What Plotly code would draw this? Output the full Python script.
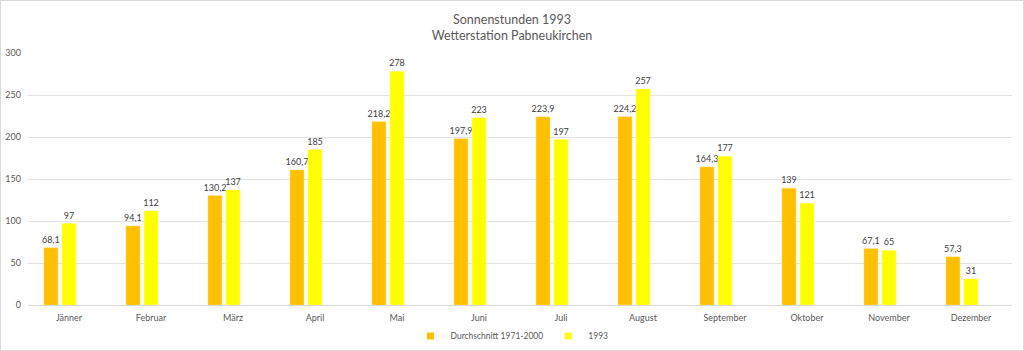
import plotly.graph_objects as go

months = ["Jänner", "Februar", "März", "April", "Mai", "Juni", "Juli",
          "August", "September", "Oktober", "November", "Dezember"]
avg_1971_2000 = [68.1, 94.1, 130.2, 160.7, 218.2, 197.9, 223.9, 224.2, 164.3, 139, 67.1, 57.3]
year_1993 = [97, 112, 137, 185, 278, 223, 197, 257, 177, 121, 65, 31]
y_ticks = [0, 50, 100, 150, 200, 250, 300]
series_names = ["Durchschnitt 1971-2000", "1993"]

def fmt(v):
    return str(v).replace(".", ",")

W, H = 1024, 351
ML, MR, MT, MB = 28, 12, 53, 46
PW, PH = W - ML - MR, H - MT - MB

FONT = "Lato, 'Open Sans', sans-serif"
GRAY = "#595959"
C1, C2 = "#FFC000", "#FFFF00"

fig = go.Figure()
for vals, col, lcol, off in [(avg_1971_2000, C1, "#FFD966", -0.305),
                             (year_1993, C2, "#FFFF66", -0.085)]:
    fig.add_trace(go.Bar(
        x=months, y=vals, showlegend=False,
        marker=dict(color=col, line=dict(color=lcol, width=0.5)),
        width=0.17, offset=off,
        text=[fmt(v) for v in vals], textposition="outside", constraintext="none",
        textfont=dict(size=9, color="#404040", family=FONT), cliponaxis=False,
    ))
# legend entries (small square markers like the original)
for name, col in zip(series_names, [C1, C2]):
    fig.add_trace(go.Scatter(
        x=[None], y=[None], mode="markers", name=name,
        marker=dict(symbol="square", size=7, color=col),
    ))

fig.update_layout(
    width=W, height=H,
    margin=dict(l=ML, r=MR, t=MT, b=MB, autoexpand=False),
    paper_bgcolor="white", plot_bgcolor="white",
    font=dict(family=FONT, color=GRAY, size=9),
    title=dict(text="Sonnenstunden 1993<br>Wetterstation Pabneukirchen",
               xref="container", x=0.5, xanchor="center", y=1 - 24 / H, yanchor="middle",
               font=dict(size=12.5, color=GRAY, family=FONT)),
    showlegend=True,
    legend=dict(orientation="h", xref="container", x=0.5, xanchor="center",
                yref="container", y=1 - 336 / H, yanchor="middle",
                bgcolor="rgba(0,0,0,0)",
                font=dict(size=8.5, color=GRAY, family=FONT),
                itemwidth=30, traceorder="normal", tracegroupgap=0),
    xaxis=dict(showgrid=False, showline=True, linecolor="#d9d9d9", linewidth=1,
               ticks="", tickfont=dict(size=9, color=GRAY), automargin=False,
               ticklabelstandoff=4),
    yaxis=dict(range=[0, 300], tickvals=y_ticks, showgrid=True, gridcolor="#e3e3e3",
               gridwidth=1, zeroline=False, showline=False, ticks="",
               tickfont=dict(size=9, color=GRAY), ticklabelstandoff=6, automargin=False),
    shapes=[dict(type="rect", xref="paper", yref="paper",
                 x0=(0.5 - ML) / PW, x1=(W - 0.5 - ML) / PW,
                 y0=(H - MB - (H - 0.5)) / PH, y1=(H - MB - 0.5) / PH,
                 line=dict(color="#d9d9d9", width=1), layer="below")],
)

fig.write_html("out.html")
